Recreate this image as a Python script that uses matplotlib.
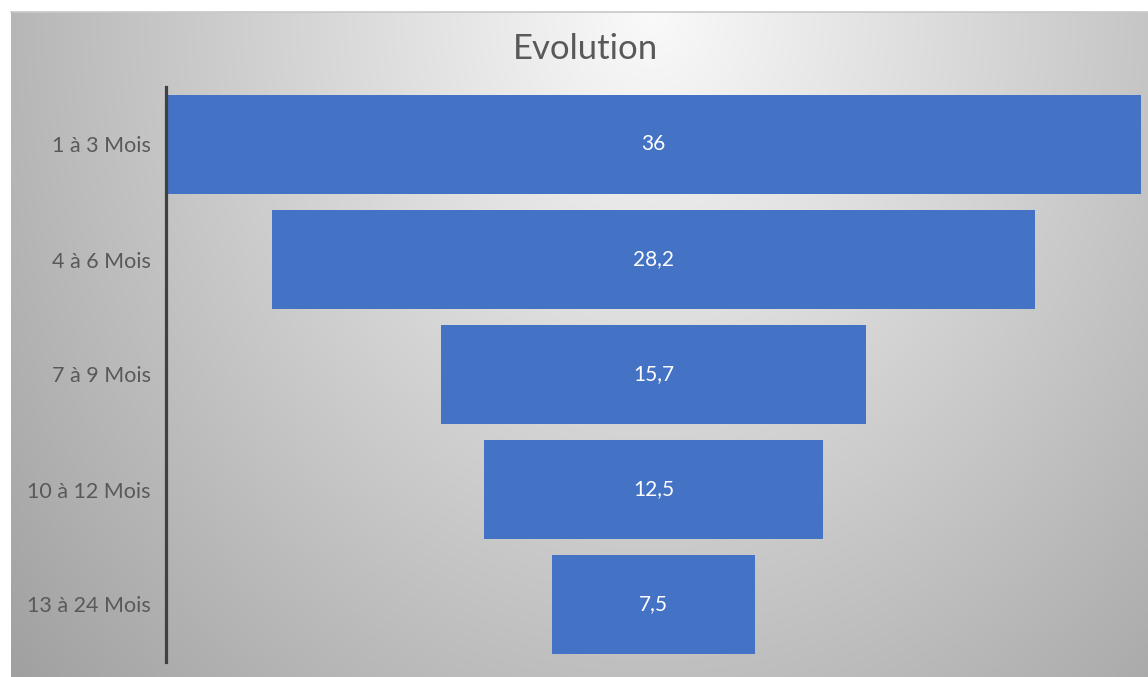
import numpy as np
import matplotlib
matplotlib.use("Agg")
import matplotlib.pyplot as plt

# Funnel data
categories = ["1 à 3 Mois", "4 à 6 Mois", "7 à 9 Mois", "10 à 12 Mois", "13 à 24 Mois"]
values = [36, 28.2, 15.7, 12.5, 7.5]
title = "Evolution"

W, H = 1148, 677
fig = plt.figure(figsize=(W / 100, H / 100), dpi=100)
fig.patch.set_facecolor("white")

# Chart area background: soft radial grey gradient, light at top centre
bx0, by0 = 11, 12
bg = fig.add_axes([bx0 / W, 0, 1 - bx0 / W, 1 - by0 / H])
bg.set_axis_off()
xs = np.arange(bx0, W)
ys = np.arange(by0, H)
X, Y = np.meshgrid(xs, ys)
d = np.sqrt(((X - 650) / 720.0) ** 2 + ((Y - 12) / 850.0) ** 2)
g = np.clip(250 - 76 * d, 160, 252) / 255.0
img = np.dstack([g, g, g])
bg.imshow(img, aspect="auto", extent=[0, 1, 0, 1], interpolation="bilinear")
bg.set_xlim(0, 1)
bg.set_ylim(0, 1)

# Top shadow line of the chart area
fig.add_artist(plt.Line2D([bx0 / W, 1], [1 - by0 / H, 1 - by0 / H],
                          transform=fig.transFigure, color="#c8c8c8", lw=1.2))

# Funnel axes
ax_l, ax_r, ax_t, ax_b = 166, 1141, 87, 662
ax = fig.add_axes([ax_l / W, 1 - ax_b / H, (ax_r - ax_l) / W, (ax_b - ax_t) / H])
ax.patch.set_alpha(0)

vmax = max(values)
ypos = np.arange(len(categories))
lefts = [(vmax - v) / 2 for v in values]
ax.barh(ypos, values, left=lefts, height=0.86, color="#4472C4", edgecolor="none")

for y, v, l in zip(ypos, values, lefts):
    lbl = f"{v:g}".replace(".", ",")
    ax.text(l + v / 2, y, lbl, ha="center", va="center", color="white",
            fontsize=15, family="Lato")

ax.set_xlim(0, vmax)
ax.set_ylim(len(categories) - 0.5, -0.5)
ax.set_yticks(ypos)
ax.set_yticklabels(categories, fontsize=15.5, color="#595959", family="Lato")
ax.tick_params(axis="y", length=0, pad=11)
ax.set_xticks([])
for s in ["top", "right", "bottom"]:
    ax.spines[s].set_visible(False)
ax.spines["left"].set_color("#404040")
ax.spines["left"].set_linewidth(2.3)

fig.text(586 / W, 1 - 49 / H, title, ha="center", va="center",
         fontsize=25, color="#595959", family="Lato")

fig.savefig("out.png", dpi=100)
